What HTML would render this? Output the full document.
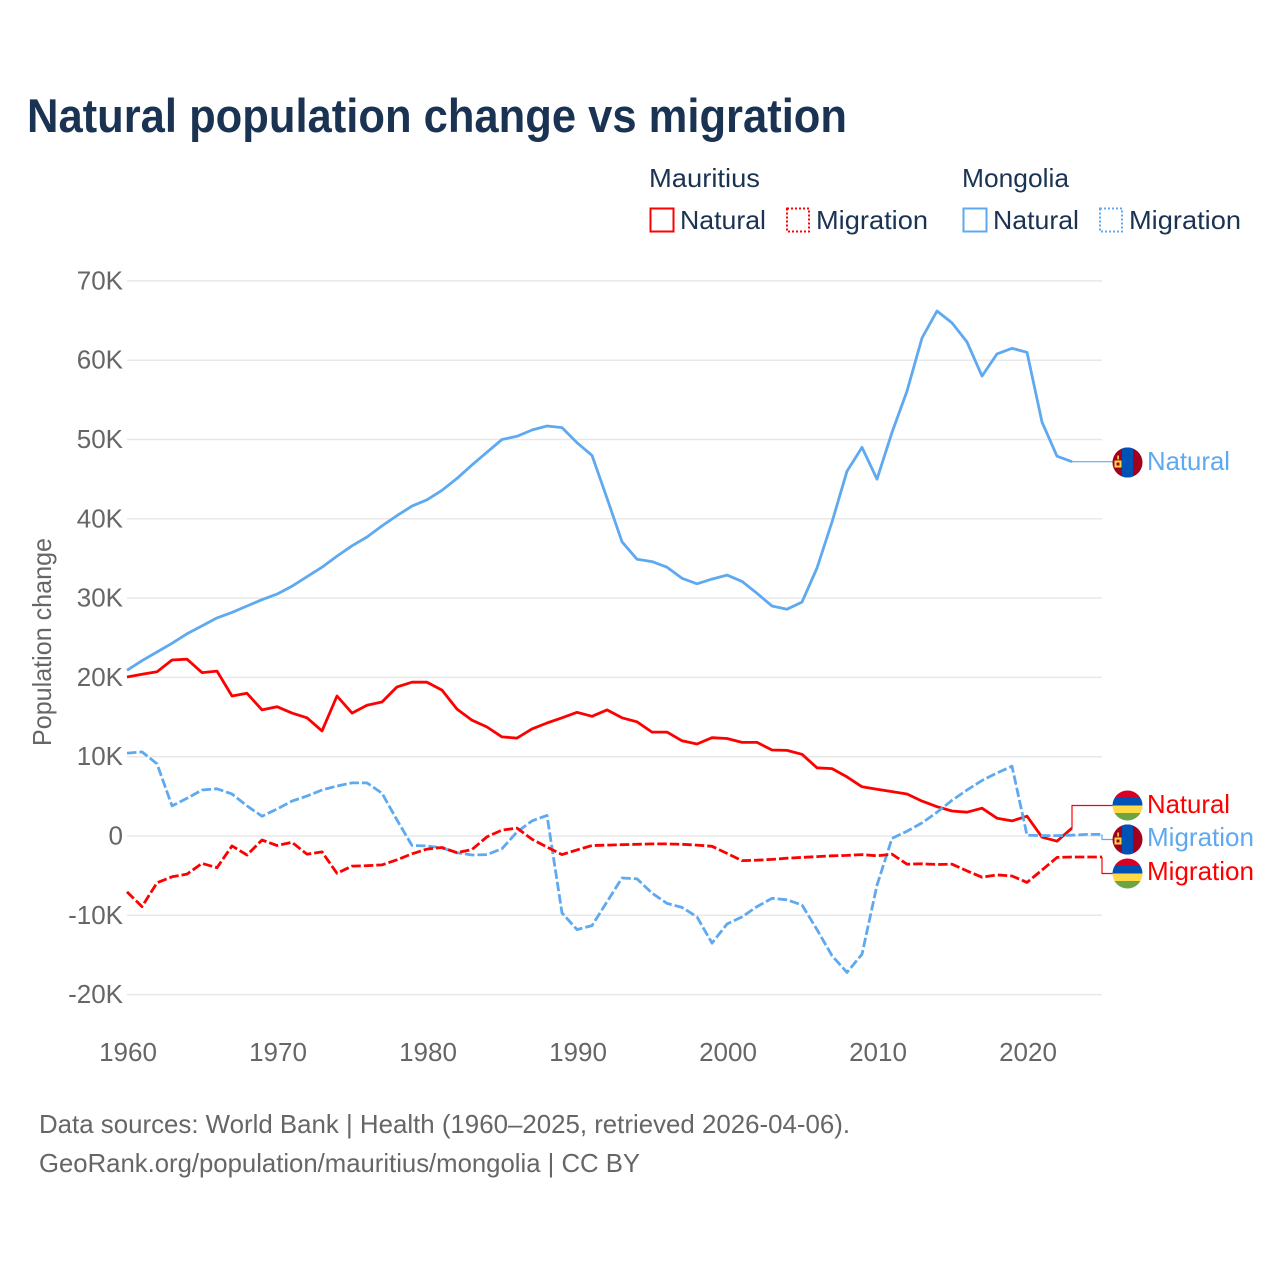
<!DOCTYPE html>
<html lang="en">
<head>
<meta charset="utf-8">
<title>Natural population change vs migration</title>
<style>
html,body{margin:0;padding:0;background:#fff;}
svg{display:block;font-family:"Liberation Sans",sans-serif;}
</style>
</head>
<body>
<svg id="chart" xmlns="http://www.w3.org/2000/svg" width="1280" height="1280" viewBox="0 0 1280 1280">
  <defs>
    <clipPath id="flag-clip"><circle cx="0" cy="0" r="15"/></clipPath>
  </defs>
  <text x="27" y="132" font-size="47" font-weight="700" fill="#1b3353" textLength="820" lengthAdjust="spacingAndGlyphs">Natural population change vs migration</text>

  <g font-size="26" fill="#1b3353">
    <text x="649" y="187" textLength="111" lengthAdjust="spacingAndGlyphs">Mauritius</text>
    <text x="962" y="187" textLength="107" lengthAdjust="spacingAndGlyphs">Mongolia</text>
    <rect x="650.5" y="208.5" width="23" height="23" fill="none" stroke="#ff0000" stroke-width="2"/>
    <text x="680" y="229" textLength="86" lengthAdjust="spacingAndGlyphs">Natural</text>
    <rect x="787" y="208.5" width="22" height="23" fill="none" stroke="#ff0000" stroke-width="2" stroke-dasharray="2 2"/>
    <text x="816" y="229" textLength="112" lengthAdjust="spacingAndGlyphs">Migration</text>
    <rect x="963.5" y="208.5" width="23" height="23" fill="none" stroke="#5ea9ef" stroke-width="2"/>
    <text x="993" y="229" textLength="86" lengthAdjust="spacingAndGlyphs">Natural</text>
    <rect x="1100" y="208.5" width="22" height="23" fill="none" stroke="#5ea9ef" stroke-width="2" stroke-dasharray="2 2"/>
    <text x="1129" y="229" textLength="112" lengthAdjust="spacingAndGlyphs">Migration</text>
  </g>

  <g id="grid"></g>
  <g id="y-ticks" font-size="26" fill="#666666" text-anchor="end"></g>
  <g id="x-ticks" font-size="26" fill="#666666" text-anchor="middle"></g>
  <text transform="translate(51 642) rotate(-90)" font-size="26" fill="#666666" text-anchor="middle" textLength="208" lengthAdjust="spacingAndGlyphs">Population change</text>

  <g id="connectors"></g>
  <g id="series"></g>
  <g id="end-labels"></g>

  <text x="39" y="1133" font-size="26" fill="#666666" textLength="811" lengthAdjust="spacingAndGlyphs">Data sources: World Bank | Health (1960–2025, retrieved 2026-04-06).</text>
  <text x="39" y="1172" font-size="26" fill="#666666" textLength="601" lengthAdjust="spacingAndGlyphs">GeoRank.org/population/mauritius/mongolia | CC BY</text>
</svg>
<script>
var startYear = 1960;
var yTickValues = [-20, -10, 0, 10, 20, 30, 40, 50, 60, 70];
var yTickLabels = ['-20K', '-10K', '0', '10K', '20K', '30K', '40K', '50K', '60K', '70K'];
var xTickYears = [1960, 1970, 1980, 1990, 2000, 2010, 2020];

var mongoliaNatural = [20.9, 22.1, 23.2, 24.3, 25.5, 26.5, 27.5, 28.2, 29.0, 29.8,
  30.5, 31.5, 32.7, 33.9, 35.3, 36.6, 37.7, 39.1, 40.4, 41.6,
  42.4, 43.6, 45.1, 46.8, 48.4, 50.0, 50.4, 51.2, 51.7, 51.5,
  49.6, 48.0, 42.6, 37.1, 34.9, 34.6, 33.9, 32.5, 31.8, 32.4,
  32.9, 32.1, 30.6, 29.0, 28.6, 29.5, 33.8, 39.6, 46.0, 49.0,
  45.0, 50.9, 56.1, 62.8, 66.2, 64.7, 62.3, 58.0, 60.8, 61.5,
  61.0, 52.2, 47.9, 47.2];

var mauritiusNatural = [20.05, 20.4, 20.7, 22.2, 22.3, 20.6, 20.8, 17.65, 18.0, 15.9,
  16.3, 15.5, 14.9, 13.25, 17.65, 15.5, 16.5, 16.9, 18.8, 19.4,
  19.4, 18.4, 16.0, 14.6, 13.75, 12.5, 12.35, 13.5, 14.25, 14.9,
  15.6, 15.1, 15.9, 14.9, 14.4, 13.1, 13.1, 12.0, 11.6, 12.4,
  12.3, 11.8, 11.8, 10.85, 10.8, 10.3, 8.6, 8.5, 7.45, 6.2,
  5.9, 5.6, 5.3, 4.4, 3.7, 3.15, 3.0, 3.5, 2.25, 1.9,
  2.5, -0.15, -0.65, 1.0];

var mongoliaMigration = [10.45, 10.6, 9.1, 3.8, 4.75, 5.8, 5.95, 5.3, 3.8, 2.5,
  3.4, 4.4, 5.05, 5.8, 6.3, 6.7, 6.7, 5.4, 2.0, -1.2,
  -1.25, -1.5, -2.1, -2.4, -2.35, -1.6, 0.5, 1.9, 2.6, -9.7,
  -11.8, -11.3, -8.3, -5.3, -5.4, -7.2, -8.5, -9.0, -10.2, -13.5,
  -11.1, -10.2, -8.9, -7.85, -8.05, -8.7, -11.8, -15.1, -17.2, -14.9,
  -6.2, -0.3, 0.6, 1.65, 3.0, 4.5, 5.8, 7.0, 7.95, 8.8,
  0.1, 0.05, 0.05, 0.1, 0.2, 0.2];

var mauritiusMigration = [-7.05, -8.9, -5.9, -5.15, -4.8, -3.45, -4.0, -1.25, -2.4, -0.5,
  -1.2, -0.8, -2.3, -2.0, -4.7, -3.8, -3.75, -3.65, -3.0, -2.25,
  -1.65, -1.45, -2.1, -1.7, -0.1, 0.75, 1.0, -0.4, -1.4, -2.35,
  -1.75, -1.2, -1.15, -1.1, -1.05, -1.0, -1.0, -1.05, -1.15, -1.3,
  -2.2, -3.1, -3.05, -2.95, -2.8, -2.7, -2.6, -2.5, -2.45, -2.35,
  -2.5, -2.3, -3.55, -3.5, -3.6, -3.55, -4.4, -5.2, -4.9, -5.05,
  -5.85, -4.3, -2.7, -2.65, -2.65, -2.65];

var NS = 'http://www.w3.org/2000/svg';
var BLUE = '#5ea9ef';
var RED = '#ff0000';

function xScale(year) { return 127 + (year - 1960) * 15; }
function yScale(v) { return 836 - v * 7.93; }

function mk(tag, attrs, parent) {
  var el = document.createElementNS(NS, tag);
  for (var k in attrs) { el.setAttribute(k, attrs[k]); }
  parent.appendChild(el);
  return el;
}

var grid = document.getElementById('grid');
var yTicks = document.getElementById('y-ticks');
yTickValues.forEach(function (v, i) {
  var line = mk('line', { x1: 127, x2: 1102, y1: yScale(v), y2: yScale(v), stroke: '#e8e8e8', 'stroke-width': 1.5 }, grid);
  
  
  var t = mk('text', { x: 123, y: yScale(v) + 8.5 }, yTicks);
  
  
  t.textContent = yTickLabels[i];
});

var xTicks = document.getElementById('x-ticks');
xTickYears.forEach(function (yr) {
  var t = mk('text', { x: xScale(yr) + 1, y: 1061 }, xTicks);
  
  
  t.textContent = String(yr);
});

function linePoints(values) {
  return values.map(function (v, i) {
    return xScale(startYear + i).toFixed(1) + ',' + yScale(v).toFixed(1);
  }).join(' ');
}

var seriesG = document.getElementById('series');
var conG = document.getElementById('connectors');

function drawSeries(values, color, dashed) {
  var p = mk('polyline', { points: linePoints(values), fill: 'none', stroke: color, 'stroke-width': 2.8, 'stroke-linejoin': 'round' }, seriesG);
  if (dashed) { p.setAttribute('stroke-dasharray', '9.5 3'); }
  return p;
}

var s1 = drawSeries(mongoliaNatural, BLUE, false);


var s2 = drawSeries(mauritiusNatural, RED, false);


var s3 = drawSeries(mongoliaMigration, BLUE, true);


var s4 = drawSeries(mauritiusMigration, RED, true);



function drawConnector(values, color, labelY) {
  var lx = xScale(startYear + values.length - 1);
  var ly = yScale(values[values.length - 1]);
  var d;
  if (Math.abs(ly - labelY) < 1) {
    d = 'M' + lx + ' ' + ly + 'H1113';
  } else {
    d = 'M' + lx + ' ' + ly + 'V' + labelY + 'H1113';
  }
  return mk('path', { d: d, fill: 'none', stroke: color, 'stroke-width': 1.2 }, conG);
}
var c1 = drawConnector(mongoliaNatural, BLUE, 462.5);


var c2 = drawConnector(mauritiusNatural, RED, 805.5);


var c3 = drawConnector(mongoliaMigration, BLUE, 839.5);


var c4 = drawConnector(mauritiusMigration, RED, 873.5);



var labelsG = document.getElementById('end-labels');

function drawFlag(country, cy) {
  var g = mk('g', { transform: 'translate(1127.5 ' + cy + ')', 'clip-path': 'url(#flag-clip)' }, labelsG);
  if (country === 'mauritius') {
    mk('rect', { x: -15, y: -15, width: 30, height: 7.5, fill: '#d80027' }, g);
    mk('rect', { x: -15, y: -7.5, width: 30, height: 7.5, fill: '#0052b4' }, g);
    mk('rect', { x: -15, y: 0, width: 30, height: 7.5, fill: '#ffda44' }, g);
    mk('rect', { x: -15, y: 7.5, width: 30, height: 7.5, fill: '#6da544' }, g);
  } else {
    mk('rect', { x: -15, y: -15, width: 30, height: 30, fill: '#a2001d' }, g);
    mk('rect', { x: -5.5, y: -15, width: 11, height: 30, fill: '#0052b4' }, g);
    mk('rect', { x: -13, y: -2, width: 7, height: 7, fill: '#ffda44' }, g);
    mk('rect', { x: -11, y: 0, width: 3, height: 3, fill: '#a2001d' }, g);
    mk('rect', { x: -10.2, y: -7, width: 1.6, height: 4, fill: '#ffda44' }, g);
  }
  return g;
}

function drawLabel(text, color, y, w) {
  var t = mk('text', { x: 1147, y: y, 'font-size': 26, fill: color, textLength: w, lengthAdjust: 'spacingAndGlyphs' }, labelsG);
  t.textContent = text;
  return t;
}

var f1 = drawFlag('mongolia', 462.5);


var l1 = drawLabel('Natural', BLUE, 470, 83);


var f2 = drawFlag('mauritius', 805.5);


var l2 = drawLabel('Natural', RED, 813, 83);


var f3 = drawFlag('mongolia', 839.5);


var l3 = drawLabel('Migration', BLUE, 846, 107);


var f4 = drawFlag('mauritius', 873.5);


var l4 = drawLabel('Migration', RED, 880, 107);


</script>
</body>
</html>
